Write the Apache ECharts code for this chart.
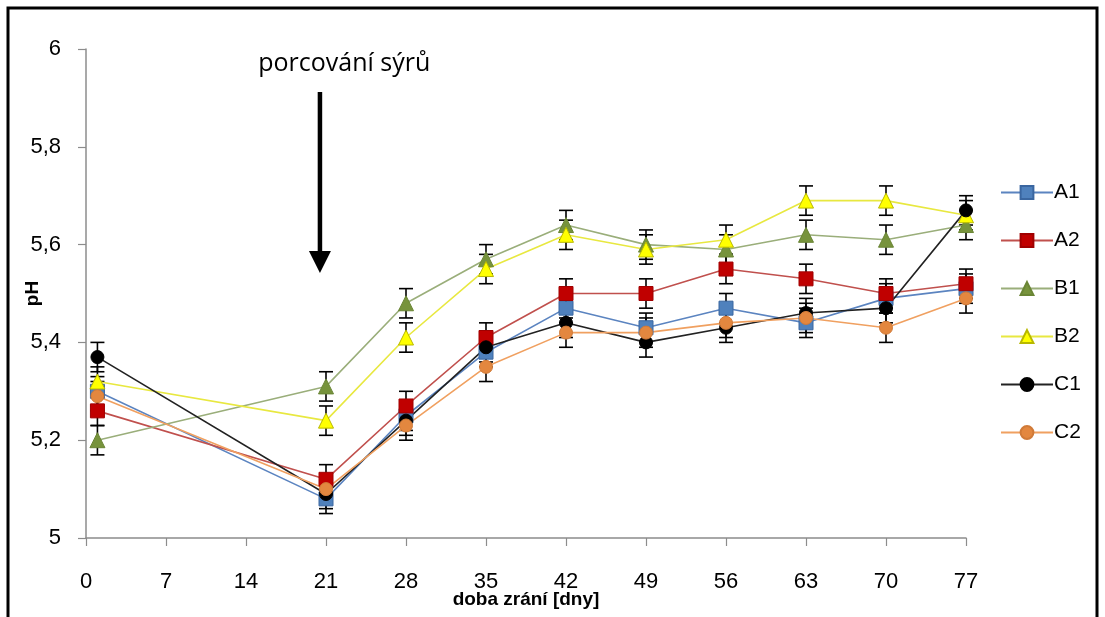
<!DOCTYPE html>
<html>
<head>
<meta charset="utf-8">
<script src="https://cdn.jsdelivr.net/npm/echarts@6/dist/echarts.min.js"></script>
<style>html,body{margin:0;padding:0;background:#fff}#c{width:1105px;height:617px}</style>
</head>
<body>
<div id="c"></div>
<script>
var days = [1, 21, 28, 35, 42, 49, 56, 63, 70, 77];
var xTicks = [0, 7, 14, 21, 28, 35, 42, 49, 56, 63, 70, 77];
var yTicks = [5, 5.2, 5.4, 5.6, 5.8, 6];
var A1 = [5.30, 5.08, 5.25, 5.38, 5.47, 5.43, 5.47, 5.44, 5.49, 5.51];
var A2 = [5.26, 5.12, 5.27, 5.41, 5.50, 5.50, 5.55, 5.53, 5.50, 5.52];
var B1 = [5.20, 5.31, 5.48, 5.57, 5.64, 5.60, 5.59, 5.62, 5.61, 5.64];
var B2 = [5.32, 5.24, 5.41, 5.55, 5.62, 5.59, 5.61, 5.69, 5.69, 5.66];
var C1 = [5.37, 5.09, 5.24, 5.39, 5.44, 5.40, 5.43, 5.46, 5.47, 5.67];
var C2 = [5.29, 5.10, 5.23, 5.35, 5.42, 5.42, 5.44, 5.45, 5.43, 5.49];
var errA1 = [0.03, 0.03, 0.03, 0.03, 0.03, 0.03, 0.03, 0.03, 0.03, 0.03];
var errA2 = [0.03, 0.03, 0.03, 0.03, 0.03, 0.03, 0.03, 0.03, 0.03, 0.03];
var errB1 = [0.03, 0.03, 0.03, 0.03, 0.03, 0.03, 0.03, 0.03, 0.03, 0.03];
var errB2 = [0.03, 0.03, 0.03, 0.03, 0.03, 0.03, 0.03, 0.03, 0.03, 0.03];
var errC1 = [0.03, 0.03, 0.03, 0.03, 0.03, 0.03, 0.03, 0.03, 0.03, 0.03];
var errC2 = [0.03, 0.03, 0.03, 0.03, 0.03, 0.03, 0.03, 0.03, 0.03, 0.03];
var annotationText = 'porcování sýrů';
var xTitle = 'doba zrání [dny]';
var yTitle = 'pH';

var seriesDefs = [
  {name: 'A1', values: A1, err: errA1, line: '#5B84C0', fill: '#4F81BD', border: '#3A66A0', symbol: 'rect', size: 14},
  {name: 'A2', values: A2, err: errA2, line: '#C0504D', fill: '#C00000', border: '#A00000', symbol: 'rect', size: 14},
  {name: 'B1', values: B1, err: errB1, line: '#9AAE7A', fill: '#77933C', border: '#6A8535', symbol: 'triangle', size: 15},
  {name: 'B2', values: B2, err: errB2, line: '#E8E840', fill: '#FFFF00', border: '#B8B800', symbol: 'triangle', size: 15},
  {name: 'C1', values: C1, err: errC1, line: '#222222', fill: '#000000', border: '#000000', symbol: 'circle', size: 13},
  {name: 'C2', values: C2, err: errC2, line: '#F0A060', fill: '#E3873F', border: '#D07A38', symbol: 'circle', size: 13}
];

var chart = echarts.init(document.getElementById('c'), null, {renderer: 'canvas'});
var FONT = 'Liberation Sans';
var series = [];
seriesDefs.forEach(function (d) {
  var pts = days.map(function (x, i) { return [x, d.values[i], d.err[i]]; });
  series.push({
    type: 'custom', name: d.name + '_err', silent: true, z: 3,
    data: pts,
    renderItem: function (params, api) {
      var x = api.value(0), y = api.value(1), e = api.value(2);
      var top = api.coord([x, y + e]);
      var bot = api.coord([x, y - e]);
      var hw = 7;
      var st = {stroke: '#000', lineWidth: 1.6};
      return {type: 'group', children: [
        {type: 'line', shape: {x1: top[0], y1: top[1], x2: bot[0], y2: bot[1]}, style: st},
        {type: 'line', shape: {x1: top[0] - hw, y1: top[1], x2: top[0] + hw, y2: top[1]}, style: st},
        {type: 'line', shape: {x1: bot[0] - hw, y1: bot[1], x2: bot[0] + hw, y2: bot[1]}, style: st}
      ]};
    }
  });
  series.push({
    type: 'line', name: d.name, z: 4,
    data: pts.map(function (p) { return [p[0], p[1]]; }),
    symbol: d.symbol, symbolSize: d.size, showAllSymbol: true,
    lineStyle: {color: d.line, width: 1.6},
    itemStyle: {color: d.fill, borderColor: d.border, borderWidth: 1},
    emphasis: {disabled: true},
    animation: false
  });
});

var option = {
  animation: false,
  backgroundColor: '#fff',
  grid: {left: 86, right: 139, top: 49, bottom: 79, containLabel: false, outerBoundsMode: 'none'},
  xAxis: {
    type: 'value', min: xTicks[0], max: xTicks[xTicks.length - 1], interval: 7,
    splitLine: {show: false},
    axisLine: {lineStyle: {color: '#8C8C8C', width: 1.5}},
    axisTick: {show: true, length: 8, lineStyle: {color: '#8C8C8C', width: 1.2}},
    axisLabel: {color: '#000', fontSize: 22, fontFamily: FONT, margin: 33},
    name: xTitle, nameLocation: 'middle', nameGap: 52, nameMoveOverlap: false,
    nameTextStyle: {color: '#000', fontSize: 19, fontWeight: 'bold', fontFamily: FONT}
  },
  yAxis: {
    type: 'value', min: yTicks[0], max: yTicks[yTicks.length - 1], interval: 0.2,
    splitLine: {show: false},
    axisLine: {show: true, lineStyle: {color: '#8C8C8C', width: 1.5}},
    axisTick: {show: true, length: 8, lineStyle: {color: '#8C8C8C', width: 1.2}},
    axisLabel: {color: '#000', fontSize: 22, fontFamily: FONT, margin: 25,
      formatter: function (v) { return (Math.round(v * 10) / 10).toString().replace('.', ','); }},
    name: yTitle, nameLocation: 'middle', nameGap: 44, nameRotate: 90, nameMoveOverlap: false,
    nameTextStyle: {color: '#000', fontSize: 19, fontWeight: 'bold', fontFamily: FONT}
  },
  legend: {
    data: seriesDefs.map(function (d) { return d.name; }),
    orient: 'vertical', left: 995, top: 177,
    itemWidth: 52, itemHeight: 16, itemGap: 27,
    textStyle: {color: '#000', fontSize: 21, fontFamily: FONT, padding: [0, 0, 0, -4]},
    selectedMode: false
  },
  series: series
};
chart.setOption(option);

function px(x, y) { return chart.convertToPixel({gridIndex: 0}, [x, y]); }
var aTop = px(20.47, 5.912), aTip = px(20.47, 5.542), tPos = px(22.6, 5.97);
chart.setOption({
  graphic: [
    {type: 'rect', shape: {x: 8, y: 8, width: 1089, height: 700}, style: {fill: 'none', stroke: '#000', lineWidth: 3}, silent: true},
    {type: 'line', shape: {x1: aTop[0], y1: aTop[1], x2: aTip[0], y2: aTip[1] - 12}, style: {stroke: '#000', lineWidth: 4.5}},
    {type: 'polygon', shape: {points: [[aTip[0] - 11, aTip[1] - 22], [aTip[0] + 11, aTip[1] - 22], [aTip[0], aTip[1]]]}, style: {fill: '#000'}},
    {type: 'text', x: tPos[0], y: tPos[1], style: {text: annotationText, fontSize: 25, fontFamily: 'Open Sans', fill: '#000', textAlign: 'center', textVerticalAlign: 'middle'}}
  ]
});
</script>
</body>
</html>
